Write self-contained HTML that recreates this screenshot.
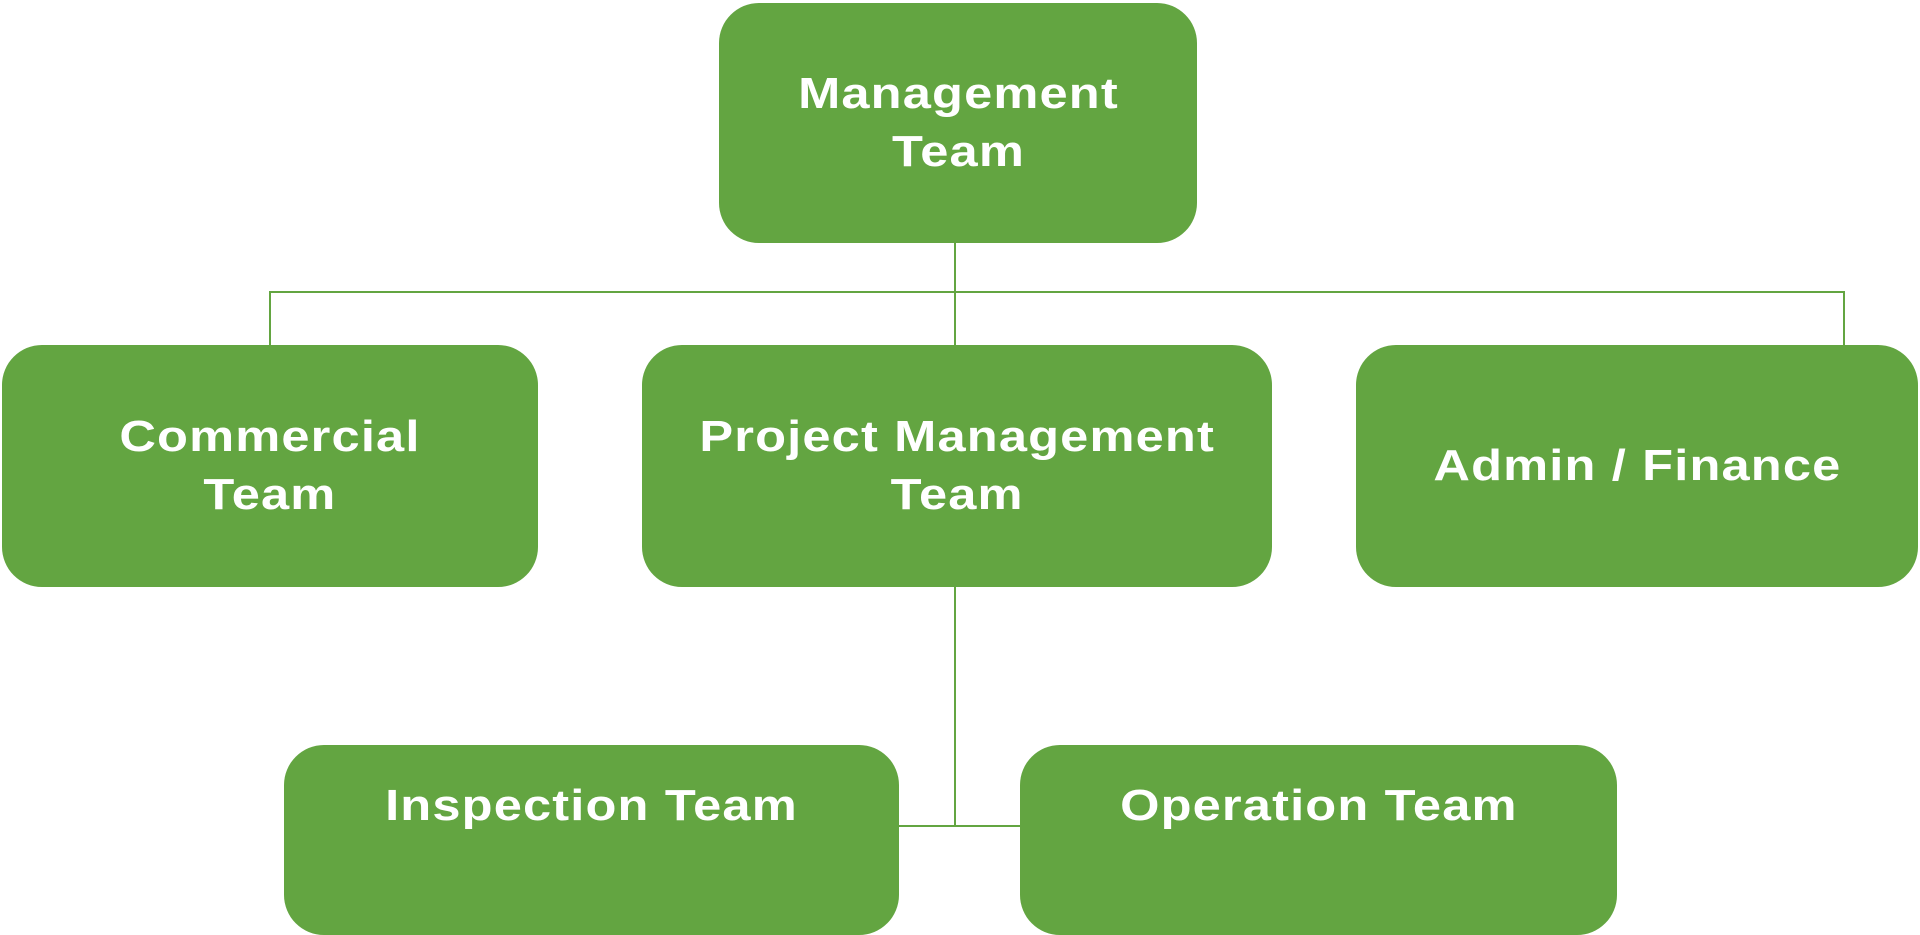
<!DOCTYPE html>
<html><head><meta charset="utf-8"><style>
body{margin:0;width:1920px;height:924px;background:#fff;position:relative;overflow:hidden;font-family:"Liberation Sans",sans-serif}
.b{position:absolute;background:#63a541;border-radius:40px;color:#fff;font-weight:bold;font-size:44px;letter-spacing:1px;line-height:58px;display:flex;align-items:center;justify-content:center;text-align:center}
.b span{display:inline-block;transform:scaleX(1.15)}
.l{position:absolute;background:#63a541}
</style></head><body>
<div class="l" style="left:954px;top:243px;width:2px;height:583px"></div>
<div class="l" style="left:269px;top:291px;width:1576px;height:2px"></div>
<div class="l" style="left:269px;top:291px;width:2px;height:55px"></div>
<div class="l" style="left:1843px;top:291px;width:2px;height:55px"></div>
<div class="l" style="left:898px;top:825px;width:124px;height:2px"></div>
<div class="b" style="left:719px;top:3px;width:478px;height:240px"><span>Management<br>Team</span></div>
<div class="b" style="left:2px;top:345px;width:536px;height:242px"><span>Commercial<br>Team</span></div>
<div class="b" style="left:642px;top:345px;width:630px;height:242px"><span>Project Management<br>Team</span></div>
<div class="b" style="left:1356px;top:345px;width:562px;height:242px"><span>Admin / Finance</span></div>
<div class="b" style="left:284px;top:745px;width:615px;height:190px;padding-bottom:68px;box-sizing:border-box"><span>Inspection Team</span></div>
<div class="b" style="left:1020px;top:745px;width:597px;height:190px;padding-bottom:68px;box-sizing:border-box"><span>Operation Team</span></div>
</body></html>
